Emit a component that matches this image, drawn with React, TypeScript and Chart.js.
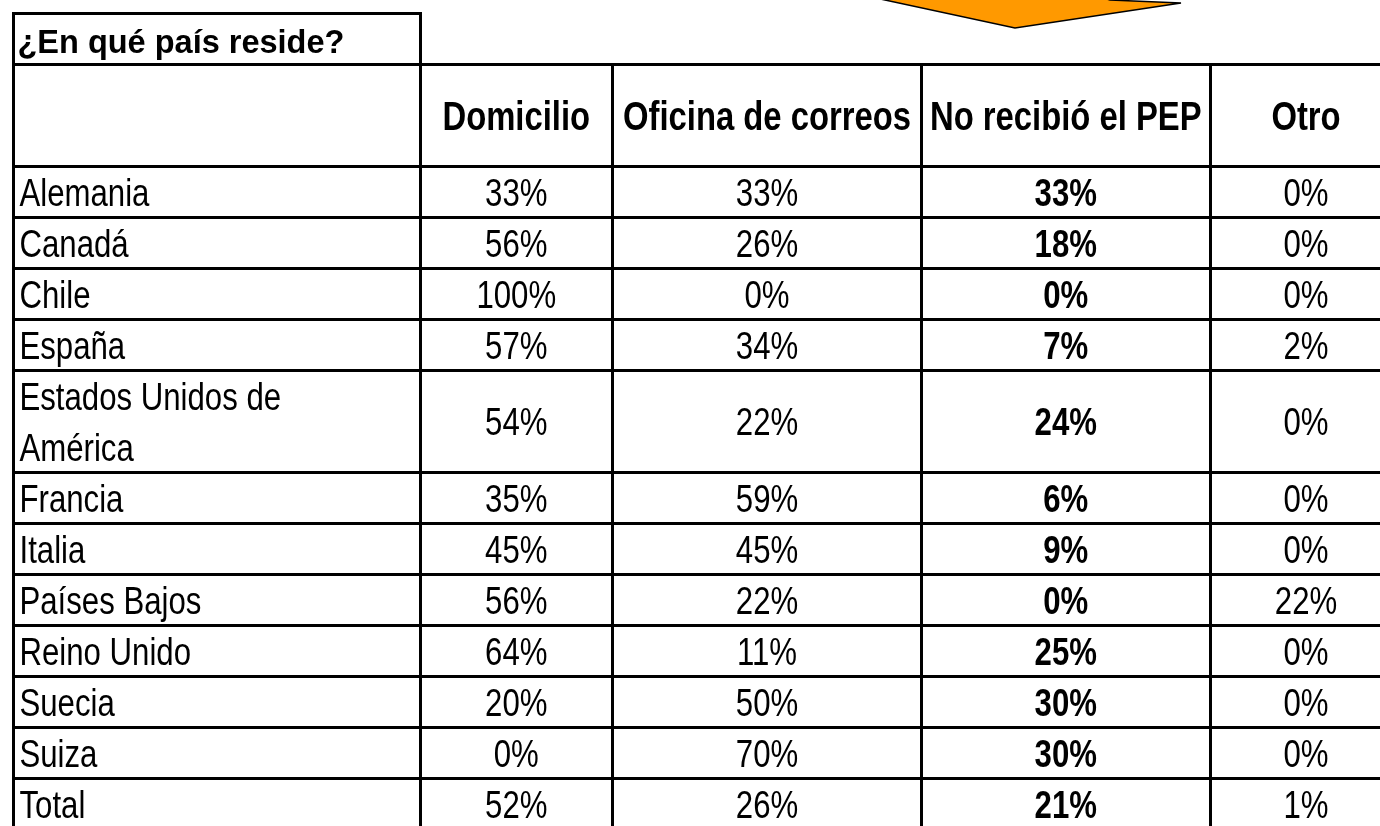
import React, { useEffect, useRef } from "react";
import { Chart, registerables } from "chart.js";

Chart.register(...registerables);

// ---------- data ----------
const TITLE = "¿En qué país reside?";
const COLUMNS = ["Domicilio", "Oficina de correos", "No recibió el PEP", "Otro"];
const COUNTRIES: (string | string[])[] = [
  "Alemania",
  "Canadá",
  "Chile",
  "España",
  ["Estados Unidos de", "América"],
  "Francia",
  "Italia",
  "Países Bajos",
  "Reino Unido",
  "Suecia",
  "Suiza",
  "Total",
];
const DOMICILIO = [33, 56, 100, 57, 54, 35, 45, 56, 64, 20, 0, 52];
const OFICINA = [33, 26, 0, 34, 22, 59, 45, 22, 11, 50, 70, 26];
const NO_RECIBIO = [33, 18, 0, 7, 24, 6, 9, 0, 25, 30, 30, 21];
const OTRO = [0, 0, 0, 2, 0, 0, 0, 22, 0, 0, 0, 1];
const BOLD_COLUMN = 2;

// ---------- layout / style ----------
const W = 1380;
const H = 826;
const COL_EDGES = [13.5, 420, 612.5, 921.5, 1210, 1402];
const TOP = 13.5;
const ROW_UNIT = 51;
const TITLE_UNITS = 1;
const HEADER_UNITS = 2;
const LW = 3;
const LABEL_PAD = 6;
const BODY_SIZE = 38;
const HEADER_SIZE = 40;
const TITLE_SIZE = 32.5;
const ARROW = [
  [871, -3],
  [1015, 28],
  [1181, 3],
  [1110, 0],
  [1100, -3],
];
const ARROW_FILL = "#FF9900";

function pickNarrow(ctx: CanvasRenderingContext2D) {
  const s = "Oficina de correos 0123456789%";
  ctx.font = '40px "Liberation Sans Narrow", monospace';
  const a = ctx.measureText(s).width;
  ctx.font = "40px monospace";
  const b = ctx.measureText(s).width;
  if (Math.abs(a - b) > 1) return { family: '"Liberation Sans Narrow"', sx: 1 };
  return { family: '"Liberation Sans", Arial, sans-serif', sx: 0.82 };
}

export default function App() {
  const ref = useRef<HTMLCanvasElement>(null);

  useEffect(() => {
    const canvas = ref.current!;
    const narrow = pickNarrow(canvas.getContext("2d")!);

    const rowStarts: number[] = [];
    const rowSpans: number[] = [];
    let u = TITLE_UNITS + HEADER_UNITS;
    COUNTRIES.forEach((c) => {
      const s = Array.isArray(c) ? c.length : 1;
      rowStarts.push(u);
      rowSpans.push(s);
      u += s;
    });
    const totalUnits = u;
    const rowCenter = (i: number) => rowStarts[i] + rowSpans[i] / 2;
    const colCenter = (c: number) => (COL_EDGES[c] + COL_EDGES[c + 1]) / 2;
    const SERIES = [DOMICILIO, OFICINA, NO_RECIBIO, OTRO];

    const datasets: any[] = [
      {
        label: "País",
        kind: "label",
        data: COUNTRIES.map((_, i) => ({ x: COL_EDGES[0] + LABEL_PAD, y: rowCenter(i) })),
        pointRadius: 0,
      },
      ...SERIES.map((vals, c) => ({
        label: COLUMNS[c],
        kind: "value",
        bold: c === BOLD_COLUMN,
        values: vals,
        data: vals.map((_, i) => ({ x: colCenter(c + 1), y: rowCenter(i) })),
        pointRadius: 0,
      })),
    ];

    const drawText = (
      ctx: CanvasRenderingContext2D,
      text: string,
      x: number,
      y: number,
      font: string,
      sx: number,
      align: CanvasTextAlign
    ) => {
      ctx.save();
      ctx.translate(x, y);
      ctx.scale(sx, 1);
      ctx.font = font;
      ctx.textAlign = align;
      ctx.textBaseline = "alphabetic";
      ctx.fillText(text, 0, 0);
      ctx.restore();
    };

    const tablePlugin = {
      id: "tablePlugin",
      beforeDraw(chart: any) {
        const { ctx } = chart;
        ctx.save();
        ctx.fillStyle = "#ffffff";
        ctx.fillRect(0, 0, chart.width, chart.height);
        ctx.restore();
      },
      afterDatasetsDraw(chart: any) {
        const { ctx } = chart;
        const xs = chart.scales.x;
        const ys = chart.scales.y;
        const px = (v: number) => xs.getPixelForValue(v);
        const py = (v: number) => ys.getPixelForValue(v);
        ctx.save();

        // arrow decoration
        ctx.beginPath();
        ARROW.forEach(([ax, ay], k) => (k ? ctx.lineTo(px(ax), ay) : ctx.moveTo(px(ax), ay)));
        ctx.closePath();
        ctx.fillStyle = ARROW_FILL;
        ctx.fill();
        ctx.lineWidth = 1.5;
        ctx.strokeStyle = "#000";
        ctx.stroke();

        // grid lines
        ctx.fillStyle = "#000";
        const hline = (uu: number, x0: number, x1: number) => {
          const yy = py(uu);
          const a = px(x0), b = px(x1);
          ctx.fillRect(Math.round(a - LW / 2), Math.round(yy - LW / 2), Math.round(b - a + LW), LW);
        };
        const vline = (xv: number, u0: number, u1: number) => {
          const xx = px(xv);
          const a = py(u0), b = py(u1);
          ctx.fillRect(Math.round(xx - LW / 2), Math.round(a - LW / 2), LW, Math.round(b - a + LW));
        };
        const L = COL_EDGES[0];
        const R = COL_EDGES[COL_EDGES.length - 1];
        hline(0, L, COL_EDGES[1]);
        vline(L, 0, totalUnits);
        vline(COL_EDGES[1], 0, TITLE_UNITS);
        hline(TITLE_UNITS, L, R);
        hline(TITLE_UNITS + HEADER_UNITS, L, R);
        rowStarts.forEach((s, i) => hline(s + rowSpans[i], L, R));
        COL_EDGES.slice(1).forEach((e) => vline(e, TITLE_UNITS, totalUnits));

        ctx.fillStyle = "#000";
        // title
        drawText(
          ctx,
          TITLE,
          px(L + 4),
          py(TITLE_UNITS / 2) + TITLE_SIZE * 0.358 + 2,
          `bold ${TITLE_SIZE}px "Liberation Sans", Arial, sans-serif`,
          1,
          "left"
        );
        // headers
        const hy = py(TITLE_UNITS + HEADER_UNITS / 2) + HEADER_SIZE * 0.358;
        COLUMNS.forEach((c, k) =>
          drawText(ctx, c, px(colCenter(k + 1)), hy, `bold ${HEADER_SIZE}px ${narrow.family}`, narrow.sx, "center")
        );

        // cells
        chart.data.datasets.forEach((ds: any, di: number) => {
          const meta = chart.getDatasetMeta(di);
          meta.data.forEach((el: any, i: number) => {
            if (ds.kind === "label") {
              const lines = Array.isArray(COUNTRIES[i]) ? (COUNTRIES[i] as string[]) : [COUNTRIES[i] as string];
              const c = rowCenter(i);
              lines.forEach((ln, k) => {
                const uu = c - (lines.length - 1) / 2 + k;
                drawText(
                  ctx,
                  ln,
                  el.x,
                  py(uu) + BODY_SIZE * 0.358,
                  `${BODY_SIZE}px ${narrow.family}`,
                  narrow.sx,
                  "left"
                );
              });
            } else {
              drawText(
                ctx,
                `${ds.values[i]}%`,
                el.x,
                el.y + BODY_SIZE * 0.358,
                `${ds.bold ? "bold " : ""}${BODY_SIZE}px ${narrow.family}`,
                narrow.sx,
                "center"
              );
            }
          });
        });
        ctx.restore();
      },
    };

    const chart = new Chart(canvas, {
      type: "scatter",
      data: { datasets },
      options: {
        animation: false,
        responsive: false,
        maintainAspectRatio: false,
        devicePixelRatio: 1,
        layout: { padding: 0 },
        events: [],
        plugins: { legend: { display: false }, tooltip: { enabled: false } },
        scales: {
          x: { type: "linear", min: 0, max: W, display: false },
          y: {
            type: "linear",
            min: -TOP / ROW_UNIT,
            max: (H - TOP) / ROW_UNIT,
            reverse: true,
            display: false,
          },
        },
      },
      plugins: [tablePlugin],
    } as any);

    return () => chart.destroy();
  }, []);

  return (
    <div style={{ position: "fixed", left: 0, top: 0, width: W, height: H, background: "#fff" }}>
      <canvas ref={ref} width={W} height={H} style={{ display: "block", width: W, height: H }} />
    </div>
  );
}
